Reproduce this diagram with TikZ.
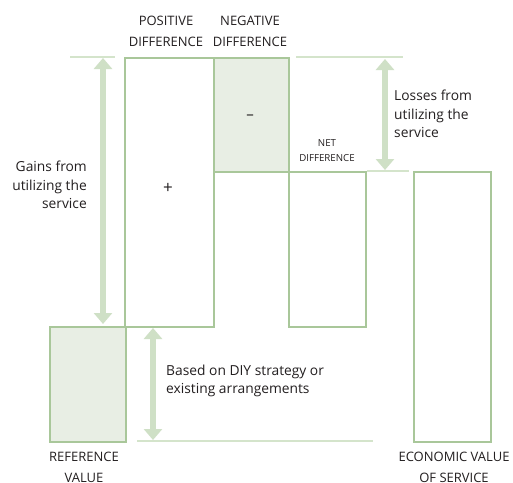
\documentclass[tikz,border=0pt]{standalone}
\usepackage{fontspec}
\setmainfont{Open Sans}
\usetikzlibrary{arrows.meta}
\definecolor{barline}{HTML}{A9C79A}
\definecolor{barfill}{HTML}{E8EEE4}
\definecolor{arrowgreen}{HTML}{CFE0C6}
\definecolor{guide}{HTML}{D4E4CB}
\definecolor{ink}{HTML}{231F20}
\tikzset{
  bar/.style={draw=barline, line width=1.8pt, anchor=north west, inner sep=0pt},
  shaded/.style={bar, fill=barfill},
  guideline/.style={draw=guide, line width=1.5pt},
  span/.style={draw=arrowgreen, line width=6pt,
    {Triangle[width=18pt,length=11pt]}-{Triangle[width=18pt,length=11pt]}},
  caption/.style={text=ink, font=\fontsize{13}{20.7}\selectfont, align=center, inner sep=0pt},
  small/.style={text=ink, font=\fontsize{9.7}{15.6}\selectfont, align=center, inner sep=0pt},
  note/.style={text=ink, font=\fontsize{13.8}{18.5}\selectfont, inner sep=0pt},
}
\begin{document}
\begin{tikzpicture}[x=1pt,y=-1pt]
\useasboundingbox (0,0) rectangle (513,482);
\fill[white] (0,0) rectangle (513,482);

% guide lines marking the levels
\draw[guideline] (70,57) -- (115,57);
\draw[guideline] (296,57) -- (403,57);
\draw[guideline] (367,171) -- (409,171);
\draw[guideline] (137,441) -- (373,441);

% bars
\node[shaded, minimum width=76pt, minimum height=115pt] (ref) at (49,326) {};
\node[bar, minimum width=89pt, minimum height=269pt] (pos) at (124,57) {};
\node[shaded, minimum width=75pt, minimum height=114pt] (neg) at (213,57) {};
\node[bar, minimum width=77pt, minimum height=155pt] (net) at (288,171) {};
\node[bar, minimum width=77pt, minimum height=270pt] (eco) at (413,171) {};

% signs inside the bars
\node[text=ink, font=\fontsize{15}{15}\selectfont] (minus) at (250,117) {–};
\node[text=ink, font=\fontsize{17}{17}\selectfont] (plus) at (168,188) {+};

% double-headed span arrows
\coordinate (gtop) at (103,58);
\coordinate (gbot) at (103,324);
\coordinate (ltop) at (385,59);
\coordinate (lbot) at (385,170);
\coordinate (btop) at (153,328);
\coordinate (bbot) at (153,440);
\draw[span] (gtop) -- (gbot);
\draw[span] (ltop) -- (lbot);
\draw[span] (btop) -- (bbot);

% labels
\node[caption] (poslbl) at (166,31.5) {POSITIVE\\DIFFERENCE};
\node[caption] (neglbl) at (250,31.5) {NEGATIVE\\DIFFERENCE};
\node[small] (netlbl) at (327,150.5) {NET\\DIFFERENCE};
\node[caption] (reflbl) at (84,467.5) {REFERENCE\\VALUE};
\node[caption] (ecolbl) at (454,467.5) {ECONOMIC VALUE\\OF SERVICE};

\node[note, anchor=east, align=right] (gains) at (87,185) {Gains from\\utilizing the\\service};
\node[note, anchor=west, align=left] (losses) at (394,114) {Losses from\\utilizing the\\service};
\node[note, anchor=west, align=left] (based) at (166,381) {Based on DIY strategy or\\existing arrangements};
\end{tikzpicture}
\end{document}
